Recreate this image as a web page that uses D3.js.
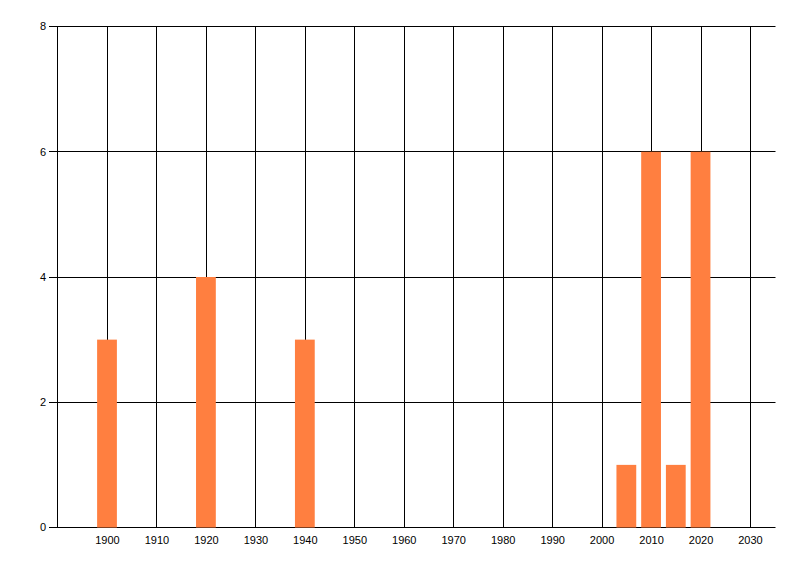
<!DOCTYPE html>
<html><head><meta charset="utf-8">
<script src="https://cdn.jsdelivr.net/npm/d3@7"></script>
<style>html,body{margin:0;padding:0;background:#fff;}svg{display:block;}</style>
</head><body>
<svg id="chart" width="800" height="576"></svg>
<script>
const years = [1900, 1920, 1940, 2005, 2010, 2015, 2020];
const counts = [3, 4, 3, 1, 6, 1, 6];
const xTicks = [1900, 1910, 1920, 1930, 1940, 1950, 1960, 1970, 1980, 1990, 2000, 2010, 2020, 2030];
const yTicks = [0, 2, 4, 6, 8];

const svg = d3.select("#chart");
const x = d3.scaleLinear().domain([1900, 2030]).range([107.5, 750.5]);
const y = d3.scaleLinear().domain([0, 8]).range([527.5, 26.5]);
const font = "'Liberation Sans', Arial, sans-serif";

// vertical gridlines
svg.append("g").selectAll("line").data(xTicks).join("line")
  .attr("x1", d => Math.floor(x(d)) + 0.5).attr("x2", d => Math.floor(x(d)) + 0.5)
  .attr("y1", y(8)).attr("y2", y(0))
  .attr("stroke", "#000").attr("stroke-width", 1);

// horizontal gridlines with ticks
svg.append("g").selectAll("line").data(yTicks).join("line")
  .attr("x1", 49).attr("x2", 775.5)
  .attr("y1", d => Math.round(y(d) - 0.5) + 0.5).attr("y2", d => Math.round(y(d) - 0.5) + 0.5)
  .attr("stroke", "#000").attr("stroke-width", 1);

// y axis line
svg.append("line").attr("x1", 57.5).attr("x2", 57.5).attr("y1", y(8)).attr("y2", y(0))
  .attr("stroke", "#000");

// bars
const bw = x(1904) - x(1900);
svg.append("g").selectAll("rect").data(years).join("rect")
  .attr("x", d => x(d) - bw / 2 - 0.5)
  .attr("width", bw)
  .attr("y", (d, i) => y(counts[i]))
  .attr("height", (d, i) => y(0) - y(counts[i]))
  .attr("fill", "#FF7F40");

// y labels
svg.append("g").selectAll("text").data(yTicks).join("text")
  .attr("x", 46).attr("y", d => y(d)).attr("dy", "0.35em")
  .attr("text-anchor", "end").attr("font-family", font).attr("font-size", 11)
  .attr("fill", "#000").text(d => d);

// x labels
svg.append("g").selectAll("text").data(xTicks).join("text")
  .attr("x", d => x(d)).attr("y", 544)
  .attr("text-anchor", "middle").attr("font-family", font).attr("font-size", 11)
  .attr("fill", "#000").text(d => d);
</script>
</body></html>
